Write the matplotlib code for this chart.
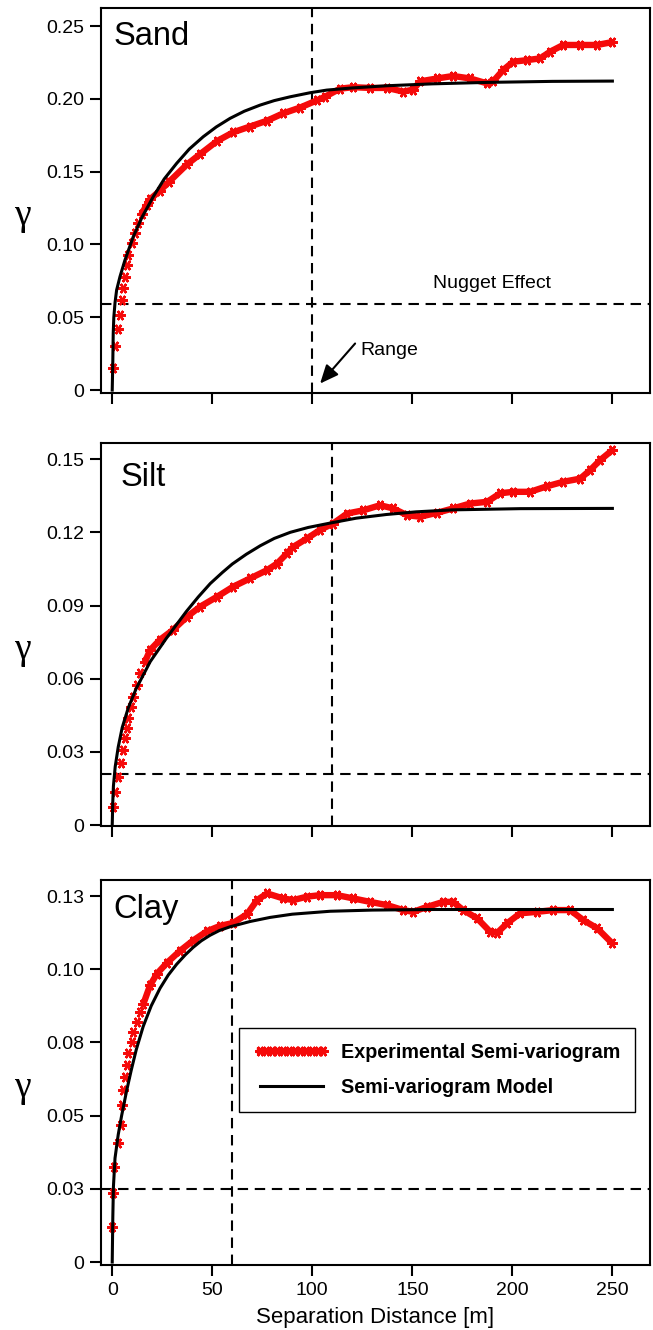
import matplotlib
matplotlib.use("Agg")
import matplotlib.pyplot as plt
from matplotlib.lines import Line2D

plt.rcParams["font.family"] = ["Liberation Sans", "DejaVu Sans"]

RED = "#f50a0a"

# ---------- DATA ----------
x_ticks = [0, 50, 100, 150, 200, 250]

# Sand
sand_exp_x = [0.2, 1.4, 3.0, 3.9, 4.7, 5.5, 6.3, 7.2, 8.0, 9.7, 11.4, 13.0, 14.7, 17.2, 18.9,
              23.9, 28.4, 37.4, 43.9, 52.4, 60.4, 68.9, 77.4, 85.4, 93.9, 102.4, 106.4, 113.9,
              120.4, 128.9, 137.4, 145.4, 150.4, 153.9, 162.4, 170.4, 178.9, 187.4, 190.4, 195.4,
              200.4, 207.4, 213.9, 218.9, 225.4, 233.9, 242.4, 250]
sand_exp_y = [0.015, 0.030, 0.042, 0.0515, 0.062, 0.070, 0.078, 0.086, 0.093, 0.101, 0.108, 0.1145,
              0.121, 0.127, 0.131, 0.137, 0.143, 0.155, 0.162, 0.171, 0.177, 0.181, 0.185, 0.190,
              0.194, 0.199, 0.2015, 0.207, 0.208, 0.2075, 0.2075, 0.205, 0.2063, 0.212, 0.214,
              0.2157, 0.214, 0.2106, 0.212, 0.2198, 0.2255, 0.2266, 0.2278, 0.2324, 0.237, 0.237,
              0.237, 0.239]
sand_model_x = [0, 0.3, 0.5, 0.8, 1.4, 2.2, 3.9, 6.3, 10.5, 15.0, 20.5, 26.0, 32.2, 38.5, 45.5,
                52.0, 58.9, 66.0, 73.9, 81.0, 88.9, 98.9, 107.2, 120.0, 137.4, 160.0, 187.4,
                220.0, 250]
sand_model_y = [0, 0.02, 0.039, 0.05, 0.06, 0.0687, 0.078, 0.089, 0.1053, 0.119, 0.1328, 0.1450,
                0.1557, 0.1655, 0.174, 0.1807, 0.1866, 0.1915, 0.1957, 0.1988, 0.2014, 0.2042,
                0.206, 0.2075, 0.209, 0.2103, 0.2113, 0.212, 0.2122]
sand_nugget = 0.059
sand_range = 100
sand_yticks = [0, 0.05, 0.10, 0.15, 0.20, 0.25]
sand_yticklabels = ["0", "0.05", "0.10", "0.15", "0.20", "0.25"]

# Silt
silt_exp_x = [0.2, 1.4, 3.0, 4.2, 5.5, 6.3, 7.2, 8.0, 9.2, 10.5, 12.2, 13.9, 16.4, 18.9, 23.9,
              30.4, 37.4, 43.9, 52.4, 60.4, 68.9, 77.4, 82.4, 87.4, 90.4, 97.4, 103.9, 110.4,
              117.4, 125.4, 133.9, 140.4, 147.4, 153.9, 162.4, 170.4, 178.9, 187.4, 193.9, 200.4,
              208.9, 217.4, 225.4, 233.9, 238.9, 243.9, 250]
silt_exp_y = [0.0075, 0.0137, 0.0198, 0.0253, 0.0307, 0.0355, 0.0396, 0.0437, 0.0485, 0.0526,
              0.0574, 0.0622, 0.067, 0.0717, 0.076, 0.080, 0.0854, 0.0895, 0.0936, 0.0977, 0.1011,
              0.1045, 0.1072, 0.1114, 0.114, 0.1175, 0.121, 0.1236, 0.1277, 0.129, 0.1311, 0.1298,
              0.127, 0.1264, 0.128, 0.1298, 0.1318, 0.1325, 0.136, 0.1366, 0.1366, 0.1389, 0.1407,
              0.142, 0.1455, 0.1496, 0.1537]
silt_model_x = [0, 0.3, 0.6, 1.5, 3.0, 5.0, 8.0, 12.0, 19.0, 27.0, 37.0, 43.0, 49.0, 55.0, 60.0,
                67.0, 74.0, 81.0, 89.0, 98.0, 109.0, 122.0, 137.0, 152.0, 170.0, 204.0, 250]
silt_model_y = [0, 0.010, 0.016, 0.024, 0.032, 0.040, 0.048, 0.056, 0.067, 0.0765, 0.0875, 0.0935,
                0.099, 0.1035, 0.107, 0.111, 0.1145, 0.1175, 0.1200, 0.1220, 0.1238, 0.1258,
                0.1273, 0.1284, 0.1292, 0.1297, 0.1298]
silt_nugget = 0.021
silt_range = 110
silt_yticks = [0, 0.03, 0.06, 0.09, 0.12, 0.15]
silt_yticklabels = ["0", "0.03", "0.06", "0.09", "0.12", "0.15"]

# Clay
clay_exp_x = [0.1, 0.3, 0.9, 3.0, 4.2, 4.7, 5.5, 6.3, 7.2, 8.0, 9.7, 10.5, 12.2, 13.9, 15.5, 18.9,
              22.4, 27.4, 33.9, 40.4, 47.4, 53.9, 60.4, 67.4, 72.4, 77.4, 85.4, 90.4, 97.4, 103.9,
              112.4, 120.4, 128.9, 137.4, 145.4, 150.4, 157.4, 165.4, 170.4, 175.4, 182.4, 188.9,
              192.4, 197.4, 203.9, 212.4, 220.4, 228.9, 235.4, 242.4, 250]
clay_exp_y = [0.012, 0.0235, 0.0326, 0.0405, 0.0468, 0.0536, 0.0587, 0.0633, 0.0673, 0.0713,
              0.0752, 0.0787, 0.082, 0.0855, 0.088, 0.0945, 0.0985, 0.1022, 0.1063, 0.1098, 0.1130,
              0.1148, 0.1158, 0.1188, 0.1236, 0.1259, 0.1242, 0.1236, 0.1248, 0.1253, 0.1253,
              0.1242, 0.123, 0.1219, 0.1202, 0.1196, 0.1213, 0.123, 0.123, 0.1202, 0.1174, 0.1128,
              0.1124, 0.1157, 0.1191, 0.1196, 0.1202, 0.1202, 0.1168, 0.114, 0.1088]
clay_model_x = [0, 0.3, 0.6, 1.4, 3.0, 4.7, 7.2, 9.5, 12.0, 15.5, 19.5, 23.9, 28.0, 32.2, 36.5,
                40.5, 44.5, 48.9, 53.5, 58.9, 68.9, 78.9, 90.0, 108.9, 130.0, 160.0, 250]
clay_model_y = [0, 0.0155, 0.0257, 0.0355, 0.0435, 0.050, 0.0585, 0.0655, 0.0725, 0.0805, 0.0875,
                0.0935, 0.098, 0.1017, 0.1049, 0.1075, 0.1097, 0.1116, 0.1132, 0.1145, 0.1163,
                0.1177, 0.1188, 0.1198, 0.1202, 0.1204, 0.1204]
clay_nugget = 0.025
clay_range = 60
clay_yticks = [0, 0.025, 0.05, 0.075, 0.10, 0.125]
clay_yticklabels = ["0", "0.03", "0.05", "0.08", "0.10", "0.13"]

MARKER = (6, 2, 90)
DASHES = (5, 3.2)


def draw_panel(ax, name, name_pos, exp_x, exp_y, mod_x, mod_y, nugget, rng,
               yticks, yticklabels, ylim, show_xlabels):
    # thick band for the dense part, separate markers everywhere
    band = [i for i, v in enumerate(exp_x) if v >= 14]
    ax.plot([exp_x[i] for i in band], [exp_y[i] for i in band],
            color=RED, lw=4.6, solid_capstyle="round", solid_joinstyle="round", zorder=2)
    ax.plot(exp_x, exp_y, ls="none", marker=MARKER, ms=7.5, mew=1.7,
            color=RED, zorder=2)
    ax.plot(mod_x, mod_y, color="black", lw=2.2, zorder=3)

    ax.axhline(nugget, color="black", lw=1.5, dashes=DASHES, zorder=1)
    ax.axvline(rng, color="black", lw=1.5, dashes=DASHES, zorder=1)

    ax.set_xlim(-5.6, 268.8)
    ax.set_ylim(*ylim)
    ax.set_xticks(x_ticks)
    ax.set_yticks(yticks)
    ax.set_yticklabels(yticklabels)
    if not show_xlabels:
        ax.set_xticklabels([])

    for sp in ax.spines.values():
        sp.set_linewidth(1.5)
    ax.tick_params(direction="out", length=8, width=1.5, labelsize=14,
                   top=False, right=False, pad=4)

    ax.text(name_pos[0], name_pos[1], name, transform=ax.transAxes,
            fontsize=23.5, ha="left", va="center")

    ax.set_ylabel("γ", rotation=0, fontsize=27, family="Liberation Serif",
                  ha="center", va="center")
    ax.yaxis.set_label_coords(-0.144, 0.46)


def main():
    fig = plt.figure(figsize=(6.53, 13.3), dpi=100)

    ax1 = fig.add_axes([0.1547, 0.7045, 0.8407, 0.2895])
    ax2 = fig.add_axes([0.1547, 0.3789, 0.8407, 0.2880])
    ax3 = fig.add_axes([0.1547, 0.0489, 0.8407, 0.2895])

    draw_panel(ax1, "Sand", (0.022, 0.925), sand_exp_x, sand_exp_y, sand_model_x, sand_model_y,
               sand_nugget, sand_range, sand_yticks, sand_yticklabels, (-0.002, 0.2624), False)
    draw_panel(ax2, "Silt", (0.035, 0.911), silt_exp_x, silt_exp_y, silt_model_x, silt_model_y,
               silt_nugget, silt_range, silt_yticks, silt_yticklabels, (-0.0004, 0.1566), False)
    draw_panel(ax3, "Clay", (0.022, 0.922), clay_exp_x, clay_exp_y, clay_model_x, clay_model_y,
               clay_nugget, clay_range, clay_yticks, clay_yticklabels, (-0.001, 0.1305), True)

    # annotations on the sand panel
    ax1.text(190, 0.0735, "Nugget Effect", fontsize=14, ha="center", va="center")
    ax1.text(124, 0.0275, "Range", fontsize=14, ha="left", va="center")
    ax1.annotate("", xy=(103.9, 0.0045), xytext=(121.4, 0.032),
                 arrowprops=dict(arrowstyle="-|>,head_length=0.8,head_width=0.35",
                                 color="black", lw=1.5, mutation_scale=14,
                                 shrinkA=0, shrinkB=0))

    ax3.set_xlabel("Separation Distance [m]", fontsize=16, labelpad=6)

    handles = [
        Line2D([], [], color=RED, lw=4.6, marker=MARKER, ms=7.5, mew=1.7),
        Line2D([], [], color="black", lw=2.2),
    ]
    leg = ax3.legend(handles, ["Experimental Semi-variogram", "Semi-variogram Model"],
                     loc="upper right", bbox_to_anchor=(0.973, 0.616), borderaxespad=0,
                     prop={"size": 14.2, "weight": "bold"}, numpoints=12,
                     handlelength=3.8, handletextpad=0.6, borderpad=0.75, labelspacing=0.85,
                     fancybox=False, framealpha=1, edgecolor="black")
    leg.get_frame().set_linewidth(1.0)

    fig.savefig("out.png", dpi=100)
    plt.close(fig)


if __name__ == "__main__":
    main()
